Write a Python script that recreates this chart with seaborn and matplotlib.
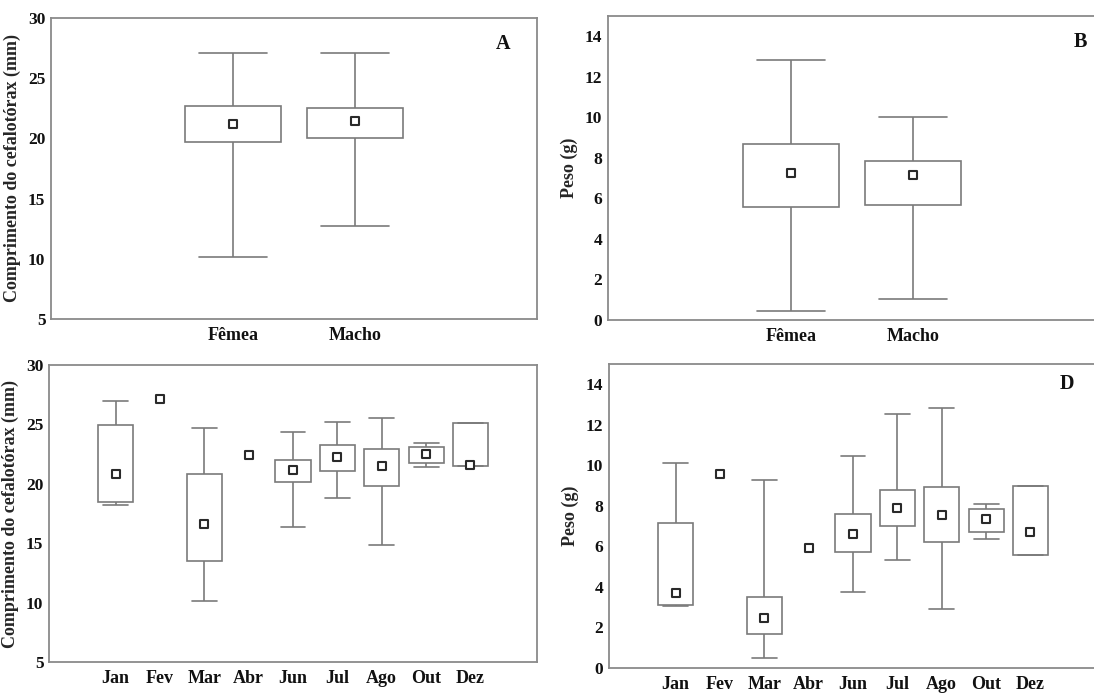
import numpy as np
import pandas as pd
import matplotlib
matplotlib.use("Agg")
import matplotlib.pyplot as plt
import seaborn as sns

# ---- data -------------------------------------------------------------
sexes = ["Fêmea", "Macho"]
months = ["Jan", "Fev", "Mar", "Abr", "Jun", "Jul", "Ago", "Out", "Dez"]

# five-number summaries per group: minimum, lower quartile, median, upper quartile, maximum
cl_sex_min = [10.18, 12.71]
cl_sex_q1 = [19.73, 20.03]
cl_sex_med = [21.22, 21.44]
cl_sex_q3 = [22.68, 22.54]
cl_sex_max = [27.08, 27.08]

wt_sex_min = [0.46, 1.02]
wt_sex_q1 = [5.58, 5.68]
wt_sex_med = [7.23, 7.17]
wt_sex_q3 = [8.68, 7.87]
wt_sex_max = [12.85, 10.03]

# months with a single specimen only have a median (None elsewhere)
cl_month_min = [18.21, None, 10.10, None, 16.34, 18.80, 14.88, 21.38, 21.46]
cl_month_q1 = [18.47, None, 13.54, None, 20.12, 21.10, 19.81, 21.77, 21.46]
cl_month_med = [20.79, 27.14, 16.59, 22.41, 21.15, 22.22, 21.46, 22.50, 21.60]
cl_month_q3 = [24.93, None, 20.79, None, 21.99, 23.25, 22.92, 23.11, 25.10]
cl_month_max = [26.98, None, 24.68, None, 24.40, 25.21, 25.58, 23.42, 25.10]

wt_month_min = [3.07, None, 0.48, None, 3.75, 5.32, 2.91, 6.38, 5.57]
wt_month_q1 = [3.09, None, 1.66, None, 5.73, 7.02, 6.23, 6.70, 5.57]
wt_month_med = [3.68, 9.58, 2.46, 5.92, 6.59, 7.90, 7.56, 7.33, 6.70]
wt_month_q3 = [7.15, None, 3.48, None, 7.62, 8.77, 8.94, 7.84, 8.96]
wt_month_max = [10.10, None, 9.27, None, 10.45, 12.54, 12.85, 8.07, 8.96]

cl_label = "Comprimento do cefalotórax (mm)"
wt_label = "Peso (g)"

# ---- style ------------------------------------------------------------
sns.set_style("white")
plt.rcParams["font.family"] = ["Liberation Serif", "DejaVu Serif"]
plt.rcParams["font.weight"] = "bold"

SPINE = "#8a8a8a"
BOX = "#7a7a7a"
MARK = "#2a2a2a"


def summary_frame(cats, mins, q1s, meds, q3s, maxs):
    """Long table holding the five summary numbers of each group."""
    rows = []
    for c, lo, a, m, b, hi in zip(cats, mins, q1s, meds, q3s, maxs):
        if lo is None:
            continue
        for v in (lo, a, m, b, hi):
            rows.append((c, v))
    return pd.DataFrame(rows, columns=["grupo", "valor"])


def draw_panel(ax, cats, mins, q1s, meds, q3s, maxs, ylim, yticks, ylabel,
               letter=None, letter_xy=None):
    df = summary_frame(cats, mins, q1s, meds, q3s, maxs)
    sns.boxplot(data=df, x="grupo", y="valor", order=cats, ax=ax,
                whis=np.inf, width=0.79, fill=True, color="white",
                linecolor=BOX, linewidth=1.2, showfliers=False,
                medianprops=dict(visible=False), capwidths=0.56)
    med_df = pd.DataFrame({"grupo": cats, "valor": meds})
    sns.stripplot(data=med_df, x="grupo", y="valor", order=cats, ax=ax,
                  jitter=False, marker="s", size=6.3, color="white",
                  edgecolor=MARK, linewidth=1.5, zorder=5)

    n = len(cats)
    ax.set_xlim(-1.5, n + 0.5)
    ax.set_xticks(range(-1, n + 1))
    ax.set_xticklabels([""] + list(cats) + [""], fontsize=13,
                       fontweight="bold")
    ax.set_ylim(*ylim)
    ax.set_yticks(yticks)
    ax.set_yticklabels([str(t) for t in yticks], fontsize=12.5,
                       fontweight="bold")
    ax.set_xlabel("")
    ax.set_ylabel(ylabel, fontsize=13, fontweight="bold", labelpad=5)
    ax.tick_params(axis="x", direction="in", length=3, width=1,
                   color="#555555", labelcolor="#111111", pad=6)
    ax.tick_params(axis="y", direction="in", length=0,
                   labelcolor="#111111", pad=4)
    for s in ax.spines.values():
        s.set_visible(True)
        s.set_color(SPINE)
        s.set_linewidth(1.3)
    ax.grid(False)
    if letter:
        ax.text(letter_xy[0], letter_xy[1], letter, transform=ax.transAxes,
                ha="center", va="center", fontsize=14.5, fontweight="bold",
                color="#111111")


W, H = 1094, 693
fig = plt.figure(figsize=(W / 100, H / 100), dpi=100)


def rect(left, right, top, bottom):
    return [left / W, 1 - bottom / H, (right - left) / W, (bottom - top) / H]


ax_a = fig.add_axes(rect(51, 537, 18, 319))
ax_b = fig.add_axes(rect(608, 1096, 16, 320))
ax_c = fig.add_axes(rect(49, 537, 365, 662))
ax_d = fig.add_axes(rect(609, 1097, 364, 668))

draw_panel(ax_a, sexes, cl_sex_min, cl_sex_q1, cl_sex_med, cl_sex_q3,
           cl_sex_max, (5, 30), list(range(5, 31, 5)), cl_label,
           "A", (0.93, 0.914))
draw_panel(ax_b, sexes, wt_sex_min, wt_sex_q1, wt_sex_med, wt_sex_q3,
           wt_sex_max, (0, 15), list(range(0, 15, 2)), wt_label,
           "B", (0.967, 0.914))
draw_panel(ax_c, months, cl_month_min, cl_month_q1, cl_month_med,
           cl_month_q3, cl_month_max, (5, 30), list(range(5, 31, 5)),
           cl_label)
draw_panel(ax_d, months, wt_month_min, wt_month_q1, wt_month_med,
           wt_month_q3, wt_month_max, (0, 15), list(range(0, 15, 2)),
           wt_label, "D", (0.939, 0.934))

fig.savefig("out.png", dpi=100)
